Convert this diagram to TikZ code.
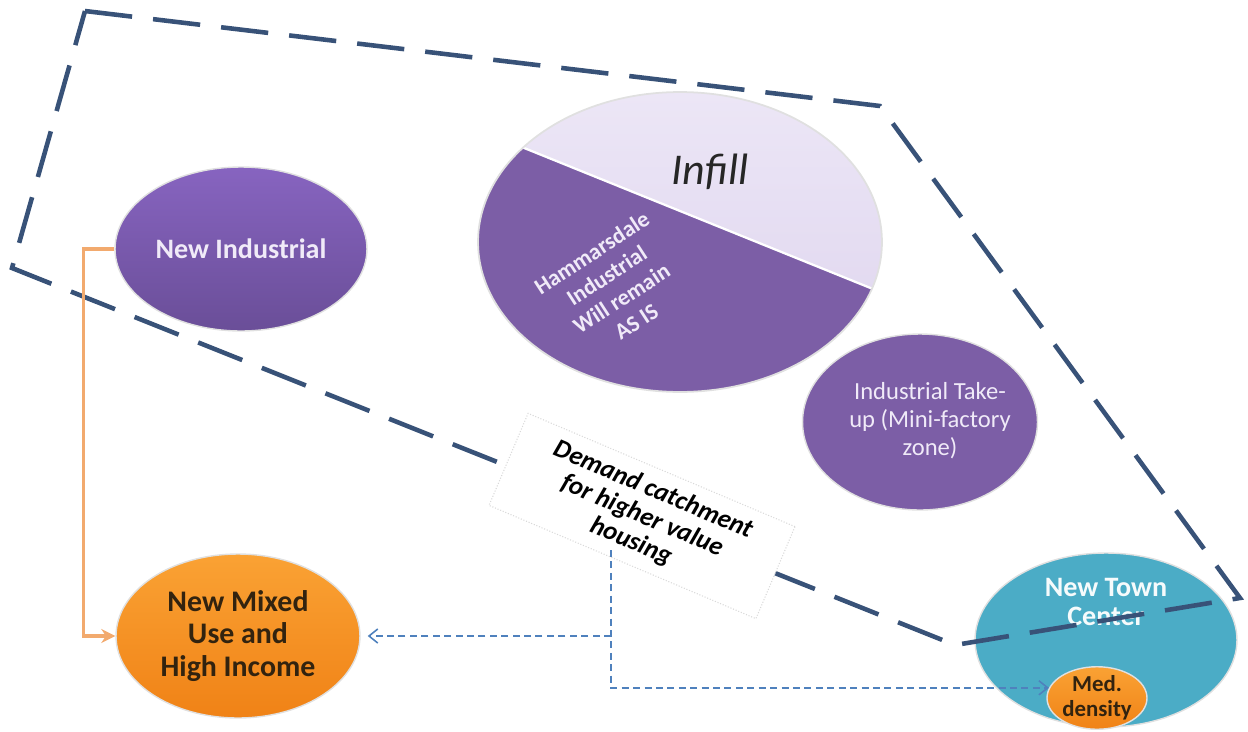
\documentclass[tikz,border=0pt]{standalone}
\usepackage{fontspec}
\setmainfont{Carlito}
\usetikzlibrary{shapes.geometric,arrows.meta,calc}
\definecolor{purp}{RGB}{124,94,166}
\definecolor{purptop}{RGB}{135,100,192}
\definecolor{purpbot}{RGB}{106,78,152}
\definecolor{lavtop}{RGB}{236,230,246}
\definecolor{lavbot}{RGB}{222,212,238}
\definecolor{orgtop}{RGB}{250,162,52}
\definecolor{orgbot}{RGB}{240,130,22}
\definecolor{teal}{RGB}{75,172,198}
\definecolor{zonec}{RGB}{56,82,120}
\definecolor{linkblue}{RGB}{79,129,189}
\definecolor{linkorange}{RGB}{242,170,110}
\definecolor{lighttxt}{RGB}{240,234,248}
\definecolor{darktxt}{RGB}{50,35,15}
\tikzset{
  blob/.style={ellipse, inner sep=0pt, draw=black!12, line width=0.8pt, align=center},
  zone/.style={draw=zonec, line width=2.6pt, dash pattern=on 27pt off 12pt},
  bluelink/.style={draw=linkblue, line width=0.9pt, dash pattern=on 4pt off 2.5pt, -{Straight Barb[length=5pt,width=8pt]}},
  orangelink/.style={draw=linkorange, line width=1.8pt, -{Stealth[length=8pt,width=8pt]}},
}
\begin{document}
\begin{tikzpicture}[x=0.02cm,y=-0.02cm]
\useasboundingbox (0,0) rectangle (1248,731);

% New Industrial
\node[blob, minimum width=5.04cm, minimum height=3.28cm, top color=purptop, bottom color=purpbot,
      text=lighttxt, font=\fontsize{16}{18}\selectfont\bfseries] (newind) at (241,249) {New Industrial};

% Infill pie
\node[ellipse, inner sep=0pt, minimum width=8.08cm, minimum height=6cm, top color=lavtop, bottom color=lavbot] (infill) at (680,242) {};
\begin{scope}
  \clip (infill.center) ellipse [x radius=4.04cm, y radius=3cm];
  \fill[purp] (450,118) -- (920,308) -- (920,420) -- (450,420) -- cycle;
  \draw[white, line width=1.3pt] (450,118) -- (920,308);
\end{scope}
\draw[black!12, line width=1pt] (infill.center) ellipse [x radius=4.04cm, y radius=3cm];
\node[font=\fontsize{25}{28}\selectfont\itshape, text=black!85] (infilltxt) at (710,172) {Infill};
\node[rotate=33, align=center, text=lighttxt, font=\fontsize{13}{15.5}\selectfont\bfseries] (hamm) at (614,287)
  {Hammarsdale\\Industrial\\Will remain\\AS IS};

% Industrial take-up
\node[blob, minimum width=4.7cm, minimum height=3.52cm, fill=purp] (takeup) at (920,422) {};
\node[align=center, text=lighttxt, font=\fontsize{14}{16}\selectfont] (takeuptxt) at (930,421)
  {Industrial Take-\\up (Mini-factory\\zone)};

% New Mixed Use
\node[blob, minimum width=4.88cm, minimum height=3.28cm, top color=orgtop, bottom color=orgbot,
      text=darktxt, font=\fontsize{17}{18.5}\selectfont\bfseries] (mixed) at (238,636) {New Mixed\\Use and\\High Income};

% New Town Center
\node[blob, minimum width=5.24cm, minimum height=3.48cm, fill=teal] (town) at (1106,640) {};
\node[align=center, text=white!95!teal, font=\fontsize{16}{17}\selectfont\bfseries] (towntxt) at (1106,602) {New Town\\Center};
\node[blob, minimum width=2.0cm, minimum height=1.2cm, top color=orgtop, bottom color=orgbot,
      text=darktxt, font=\fontsize{13}{14}\selectfont\bfseries] (med) at (1097,698) {Med.\\density};

% Dashed zone outline
\draw[zone] (85,11) -- (880,106) -- (1240,598) -- (955,645) -- (12,268) -- cycle;

% Demand catchment label
\node[rotate=-23, fill=white, draw=black!15, densely dotted, line width=0.6pt, minimum width=5.8cm, minimum height=2.0cm,
      align=center, font=\fontsize{15}{16}\selectfont\bfseries\itshape] (demand) at (642,516)
  {Demand catchment\\for higher value\\housing};

% Connectors
\coordinate (dtop) at (611,550);
\draw[orangelink] (newind.west) -- ++(-31,0) |- (mixed.west);
\draw[bluelink] (dtop) |- (med.168);
\draw[bluelink, shorten >=4pt] (dtop |- mixed.east) -- (mixed.east);
\end{tikzpicture}
\end{document}
